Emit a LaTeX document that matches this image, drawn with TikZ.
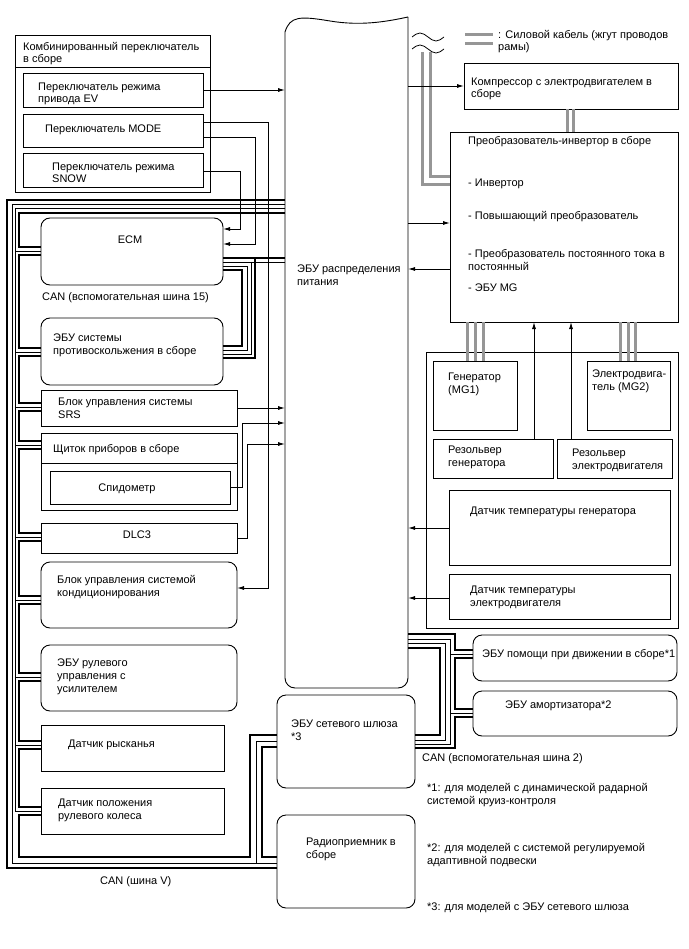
\documentclass[tikz,border=0pt]{standalone}
\usepackage{fontspec}
\setmainfont{Liberation Sans}
\usepackage{tikz}
\usetikzlibrary{arrows.meta}
\definecolor{cablegray}{RGB}{150,150,150}
\tikzset{>={Latex[length=7pt,width=4pt]},
  box/.style={draw, line width=0.9pt, inner sep=0pt, outer sep=0pt, anchor=north west},
  rbox/.style={box, rounded corners=9pt},
  hid/.style={inner sep=0pt, outer sep=0pt, anchor=north west},
  lbl/.style={anchor=base west, inner sep=0pt, align=left, font={\fontsize{11}{12.8}\selectfont}},
  clbl/.style={lbl, anchor=base},
  arr/.style={->, line width=0.9pt},
  canthick/.style={line width=2.6pt},
  canthin/.style={line width=0.9pt},
  pcable/.style={line width=3pt, color=cablegray}}

\begin{document}
\begin{tikzpicture}[x=1pt, y=-1pt]

    \fill[white] (0,0) rectangle (688,949);
    \useasboundingbox (0,0) rectangle (688,949);

    % combined switch
    \node[box, minimum width=195pt, minimum height=157pt] (combo) at (15,35) {};
    \draw[line width=0.9pt] (combo.west |- 0,67) -- (combo.east |- 0,67);
    \node[box, minimum width=180pt, minimum height=34pt] (ev) at (23,73) {};
    \node[box, minimum width=180pt, minimum height=33pt] (mode) at (23,114) {};
    \node[box, minimum width=180pt, minimum height=34pt] (snow) at (23,153) {};

    % (multi-line labels sit on the baseline of their last line)
    \node[lbl] (comboT) at (23,63) {Комбинированный переключатель\\в сборе};
    \node[lbl] (evT) at (38,103) {Переключатель режима\\привода EV};
    \node[lbl] (modeT) at (45,133) {Переключатель MODE};
    \node[lbl] (snowT) at (52,183) {Переключатель режима\\SNOW};

    % power distribution ECU
    \node[hid, minimum width=123pt, minimum height=663pt] (dist) at (285,25) {};
    \draw[line width=0.9pt] (285,32) .. controls (290,16) and (300,16) .. (330,21)
        .. controls (360,26) and (385,22) .. (408,17);
    \draw[line width=0.9pt, rounded corners=10pt] (408,17) -- (408,688) -- (285,688) -- (285,32);
    \node[lbl] (distT) at (297,285) {ЭБУ распределения\\питания};

    \draw[line width=0.8pt] (412,37) sin (420,33) cos (428,37) sin (436,41) cos (444,37);
    \draw[line width=0.8pt] (412,49) sin (420,45) cos (428,49) sin (436,53) cos (444,49);

    % legend
    \draw[pcable] (465,35) -- (493,35);
    \draw[pcable] (465,44) -- (493,44);
    \node[lbl] (legT) at (498,51) {: Силовой кабель (жгут проводов\\рамы)};

    % right side
    \node[box, minimum width=214pt, minimum height=46pt] (comp) at (464,63) {};
    \node[lbl] (compT) at (471,98) {Компрессор с электродвигателем в\\сборе};

    \node[box, minimum width=228pt, minimum height=190pt] (inv) at (450,132) {};
    \node[lbl] (invT) at (468,145) {Преобразователь-инвертор в сборе};
    \node[lbl] (inv1) at (468,187) {- Инвертор};
    \node[lbl] (inv2) at (468,220) {- Повышающий преобразователь};
    \node[lbl] (inv3) at (468,270) {- Преобразователь постоянного тока в\\постоянный};
    \node[lbl] (inv4) at (468,291) {- ЭБУ MG};

    \node[box, minimum width=252pt, minimum height=276pt] (mg) at (426,352) {};
    \node[box, minimum width=84pt, minimum height=69pt] (gen) at (433,361) {};
    \node[box, minimum width=83pt, minimum height=69pt] (mot) at (587,361) {};
    \node[box, minimum width=120pt, minimum height=39pt] (rgen) at (433,439) {};
    \node[box, minimum width=115pt, minimum height=39pt] (rmot) at (557,439) {};
    \node[box, minimum width=221pt, minimum height=75pt] (tgen) at (449,490) {};
    \node[box, minimum width=221pt, minimum height=45pt] (tmot) at (449,574) {};

    \node[lbl] (genT) at (448,393) {Генератор\\(MG1)};
    \node[lbl] (motT) at (592,390) {Электродвига-\\тель (MG2)};
    \node[lbl] (rgenT) at (448,466) {Резольвер\\генератора};
    \node[lbl] (rmotT) at (572,469) {Резольвер\\электродвигателя};
    \node[lbl] (tgenT) at (470,514) {Датчик температуры генератора};
    \node[lbl] (tmotT) at (470,606) {Датчик температуры\\электродвигателя};

    % left ECUs
    \node[rbox, minimum width=182pt, minimum height=67pt] (ecm) at (41,218) {};
    \node[rbox, minimum width=182pt, minimum height=67pt] (abs) at (41,318) {};
    \node[box, minimum width=196pt, minimum height=36pt] (srs) at (41,390) {};
    \node[box, minimum width=196pt, minimum height=77pt] (meter) at (41,433) {};
    \draw[line width=0.9pt] (meter.west |- 0,463) -- (meter.east |- 0,463);
    \node[box, minimum width=180pt, minimum height=33pt] (speedo) at (50,471) {};
    \node[box, minimum width=196pt, minimum height=30pt] (dlc) at (41,523) {};
    \node[rbox, minimum width=196pt, minimum height=66pt] (ac) at (41,562) {};
    \node[rbox, minimum width=196pt, minimum height=66pt] (eps) at (41,645) {};
    \node[box, minimum width=183pt, minimum height=46pt] (yaw) at (41,725) {};
    \node[box, minimum width=183pt, minimum height=46pt] (sas) at (41,788) {};

    \node[clbl] (ecmT) at (130,244) {ECM};
    \node[lbl] (can15) at (42,301) {CAN (вспомогательная шина 15)};
    \node[lbl] (absT) at (53,354) {ЭБУ системы\\противоскольжения в сборе};
    \node[lbl] (srsT) at (58,418) {Блок управления системы\\SRS};
    \node[lbl] (meterT) at (53,452) {Щиток приборов в сборе};
    \node[clbl] (speedoT) at (127,491) {Спидометр};
    \node[clbl] (dlcT) at (137,538) {DLC3};
    \node[lbl] (acT) at (57,596) {Блок управления системой\\кондиционирования};
    \node[lbl] (epsT) at (57,692) {ЭБУ рулевого\\управления с\\усилителем};
    \node[lbl] (yawT) at (68,747) {Датчик рысканья};
    \node[lbl] (sasT) at (58,819) {Датчик положения\\рулевого колеса};
    \node[lbl] (canV) at (100,884) {CAN (шина V)};

    % bottom right ECUs
    \node[rbox, minimum width=138pt, minimum height=93pt] (gw) at (277,695) {};
    \node[rbox, minimum width=204pt, minimum height=46pt] (drv) at (473,635) {};
    \node[rbox, minimum width=204pt, minimum height=45pt] (shock) at (473,691) {};
    \node[rbox, minimum width=138pt, minimum height=93pt] (radio) at (277,815) {};

    \node[lbl] (gwT) at (291,740) {ЭБУ сетевого шлюза\\*3};
    \node[lbl] (drvT) at (482,657) {ЭБУ помощи при движении в сборе*1};
    \node[lbl] (shockT) at (505,708) {ЭБУ амортизатора*2};
    \node[lbl] (radioT) at (306,858) {Радиоприемник в\\сборе};
    \node[lbl] (can2) at (422,761) {CAN (вспомогательная шина 2)};

    \node[lbl] (fn1) at (427,804) {*1: для моделей с динамической радарной\\системой круиз-контроля};
    \node[lbl] (fn2) at (427,864) {*2: для моделей с системой регулируемой\\адаптивной подвески};
    \node[lbl] (fn3) at (427,910) {*3: для моделей с ЭБУ сетевого шлюза};

    % power cables
    \draw[pcable] (422,52) |- (inv.west |- 0,185);
    \draw[pcable] (430,52) |- (inv.west |- 0,177);
    \foreach \x in {567,573}
        \draw[pcable] (\x,0 |- comp.south) -- (\x,0 |- inv.north);
    \foreach \x in {467,475,483}
        \draw[pcable] (\x,0 |- inv.south) -- (\x,0 |- gen.north);
    \foreach \x in {620,628,635}
        \draw[pcable] (\x,0 |- inv.south) -- (\x,0 |- mot.north);

    % signal lines
    \draw[arr] (ev.east) -- (dist.west |- ev.east);
    \draw[arr] (mode.east |- 0,122) -| (268,588) -- (ac.east |- 0,588);
    \draw[arr] (mode.east |- 0,137) -| (255,244) -- (ecm.east |- 0,244);
    \draw[arr] (snow.east |- 0,171) -| (240,229) -- (ecm.east |- 0,229);
    \draw[arr] (dist.east |- comp.west) -- (comp.west);
    \draw[arr] (dist.east |- 0,223) -- (inv.west |- 0,223);
    \draw[arr] (inv.west |- 0,269) -- (dist.east |- 0,269);
    \draw[arr] (534,0 |- rgen.north) -- (534,0 |- inv.south);
    \draw[arr] (571,0 |- rmot.north) -- (571,0 |- inv.south);
    \draw[arr] (tgen.west |- 0,528) -- (dist.east |- 0,528);
    \draw[arr] (tmot.west |- 0,598) -- (dist.east |- 0,598);
    \draw[arr] (srs.east |- 0,408) -- (dist.west |- 0,408);
    \draw[arr] (speedo.east) -| (242,423) -- (dist.west |- 0,423);
    \draw[arr] (dlc.east) -| (247,444) -- (dist.west |- 0,444);

    % CAN (V bus)
    \draw[canthick] (dist.west |- 0,200) -| (7,868) -- (radio.west |- 0,868);
    \draw[canthin] (dist.west |- 0,204) -| (12,863) -- (radio.west |- 0,863);
    \draw[canthin] (dist.west |- 0,208) -| (15,811);
    \foreach \n/\y in {ecm/251,abs/352,srs/407,meter/445,dlc/537,ac/600,eps/677,yaw/745,sas/811}
        \draw[canthin] (15,\y) -- (\n.west |- 0,\y);
    \draw[canthick] (dist.west |- 0,213) -| (19,247) -- (ecm.west |- 0,247);
    \foreach \a/\ya/\b/\yb in {ecm/251/abs/352, abs/352/srs/407, srs/407/meter/445,
            meter/445/dlc/537, dlc/537/ac/600, ac/600/eps/677, eps/677/yaw/745, yaw/745/sas/811}
        \draw[canthick] (\a.west |- 0,\ya+4) -| (19,\yb-4) -- (\b.west |- 0,\yb-4);
    \draw[canthick] (sas.west |- 0,815) -| (19,857) -| (250,735) -- (gw.west |- 0,735);
    \draw[canthin] (gw.west |- 0,741) -| (256,863);
    \draw[canthick] (gw.west |- 0,747) -| (262,857) -- (radio.west |- 0,857);

    % CAN (sub bus 15)
    \draw[canthick] (ecm.east |- 0,258) -- (dist.west |- 0,258);
    \draw[canthin] (ecm.east |- 0,262) -- (dist.west |- 0,262);
    \draw[canthin] (ecm.east |- 0,266) -| (247,350) -- (abs.east |- 0,350);
    \draw[canthick] (ecm.east |- 0,270) -| (242,346) -- (abs.east |- 0,346);
    \draw[canthin] (251,262) |- (abs.east |- 0,354);
    \draw[canthick] (255,258) |- (abs.east |- 0,358);

    % CAN (sub bus 2)
    \draw[canthick] (dist.east |- 0,634) -| (455,650) -- (drv.west |- 0,650);
    \draw[canthin] (dist.east |- 0,639) -| (450,744) -- (gw.east |- 0,744);
    \draw[canthin] (450,654) -- (drv.west |- 0,654);
    \draw[canthin] (450,713) -- (shock.west |- 0,713);
    \draw[canthin] (dist.east |- 0,643) -| (445,740) -- (gw.east |- 0,740);
    \draw[canthick] (dist.east |- 0,648) -| (440,735) -- (gw.east |- 0,735);
    \draw[canthick] (drv.west |- 0,658) -| (455,709) -- (shock.west |- 0,709);
    \draw[canthick] (shock.west |- 0,717) -| (455,748) -- (gw.east |- 0,748);

\end{tikzpicture}
\end{document}
